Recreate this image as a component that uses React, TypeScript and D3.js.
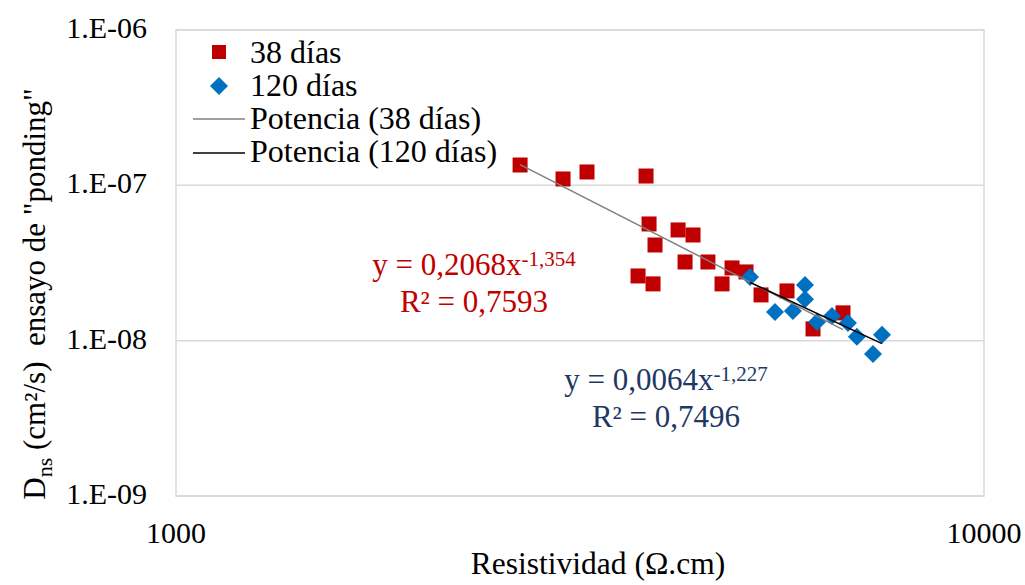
import React from "react";
import * as d3 from "d3";

// ---- Data ----
const res38: number[] = [2666, 3013, 3226, 3817, 3850, 3916, 4182, 4364, 3731, 3894, 4266, 4553, 4877, 5075, 4740, 5297, 5704, 6143, 6691];
const dns38: number[] = [1.352e-7, 1.099e-7, 1.219e-7, 1.148e-7, 5.64e-8, 4.13e-8, 5.16e-8, 4.79e-8, 2.61e-8, 2.32e-8, 3.21e-8, 3.21e-8, 2.94e-8, 2.77e-8, 2.32e-8, 1.97e-8, 2.09e-8, 1.19e-8, 1.51e-8];

const res120: number[] = [5133, 5512, 5801, 6004, 6004, 6213, 6484, 6786, 6961, 7478, 7288];
const dns120: number[] = [2.57e-8, 1.53e-8, 1.55e-8, 2.28e-8, 1.85e-8, 1.32e-8, 1.44e-8, 1.30e-8, 1.06e-8, 1.09e-8, 8.2e-9];

const xTicks: number[] = [1000, 10000];
const yTicks: number[] = [1e-6, 1e-7, 1e-8, 1e-9];

const legendLabels: string[] = ["38 días", "120 días", "Potencia (38 días)", "Potencia (120 días)"];
const eq38: string[] = ["y = 0,2068x", "-1,354", "R² = 0,7593"];
const eq120: string[] = ["y = 0,0064x", "-1,227", "R² = 0,7496"];

const RED = "#C00000";
const BLUE = "#0070C0";
const NAVY = "#203864";
const GRID = "#d9d9d9";
const FONT = "'Liberation Serif', 'Times New Roman', serif";

function powerFit(xs: number[], ys: number[]) {
  const lx = xs.map(Math.log);
  const ly = ys.map(Math.log);
  const mx = d3.mean(lx)!;
  const my = d3.mean(ly)!;
  let sxy = 0, sxx = 0;
  lx.forEach((v, i) => {
    sxy += (v - mx) * (ly[i] - my);
    sxx += (v - mx) * (v - mx);
  });
  const b = sxy / sxx;
  const a = Math.exp(my - b * mx);
  return { a, b };
}

export default function App() {
  const W = 1025, H = 585;
  const left = 176, right = 984, top = 30, bottom = 496;
  const x = d3.scaleLog().domain([1000, 10000]).range([left, right]);
  const y = d3.scaleLog().domain([1e-9, 1e-6]).range([bottom, top]);

  const fit38 = powerFit(res38, dns38);
  const fit120 = powerFit(res120, dns120);
  const line = d3.line<[number, number]>().x((d) => x(d[0])).y((d) => y(d[1]));
  const trend = (xs: number[], f: { a: number; b: number }) => {
    const [mn, mx] = d3.extent(xs) as [number, number];
    return line([mn, mx].map((v) => [v, f.a * Math.pow(v, f.b)] as [number, number]));
  };

  const fmtY = (v: number) => {
    const e = Math.round(Math.log10(v));
    return `1.E-${String(Math.abs(e)).padStart(2, "0")}`;
  };

  const sq = 14;
  const dm = 9;
  const diamond = (cx: number, cy: number) => `M${cx},${cy - dm}L${cx + dm},${cy}L${cx},${cy + dm}L${cx - dm},${cy}Z`;

  const legY = [63, 96, 129, 162];

  return (
    <svg width={W} height={H} style={{ position: "absolute", left: 0, top: 0, background: "#fff" }} fontFamily={FONT}>
      <rect x={0} y={0} width={W} height={H} fill="#fff" />
      {/* gridlines */}
      {yTicks.map((t) => (
        <line key={t} x1={left} x2={right} y1={y(t)} y2={y(t)} stroke={GRID} strokeWidth={1.5} />
      ))}
      <rect x={left} y={top} width={right - left} height={bottom - top} fill="none" stroke={GRID} strokeWidth={1.5} />

      {/* y tick labels */}
      {yTicks.map((t) => (
        <text key={t} x={147} y={y(t) + 8} fontSize={30} textAnchor="end" fill="#000">
          {fmtY(t)}
        </text>
      ))}
      {/* x tick labels */}
      {xTicks.map((t) => (
        <text key={t} x={x(t)} y={543} fontSize={30} textAnchor="middle" fill="#000">
          {d3.format("d")(t)}
        </text>
      ))}

      {/* axis titles */}
      <text x={598} y={574} fontSize={31.5} textAnchor="middle" fill="#000">
        Resistividad (Ω.cm)
      </text>
      <text transform="translate(45,294) rotate(-90)" fontSize={31} textAnchor="middle" fill="#000">
        D<tspan fontSize={22} dy={7}>ns</tspan>
        <tspan dy={-7}>{" (cm²/s)\u00A0 ensayo de \"ponding\""}</tspan>
      </text>

      {/* markers */}
      {res38.map((v, i) => (
        <rect key={"r" + i} x={x(v) - sq / 2 - 0.5} y={y(dns38[i]) - sq / 2 - 0.5} width={sq + 1} height={sq + 1} fill={RED} />
      ))}
      {res120.map((v, i) => (
        <path key={"b" + i} d={diamond(x(v), y(dns120[i]))} fill={BLUE} />
      ))}

      {/* trend lines */}
      <path d={trend(res38, fit38) || ""} stroke="#808080" strokeWidth={1.5} fill="none" />
      <path d={trend(res120, fit120) || ""} stroke="#000" strokeWidth={1.5} fill="none" />

      {/* equations */}
      <text x={474} y={275} fontSize={31} textAnchor="middle" fill={RED}>
        {eq38[0]}
        <tspan fontSize={21} dy={-9}>{eq38[1]}</tspan>
      </text>
      <text x={474} y={312} fontSize={31} textAnchor="middle" fill={RED}>
        {eq38[2]}
      </text>
      <text x={666} y={390} fontSize={31} textAnchor="middle" fill={NAVY}>
        {eq120[0]}
        <tspan fontSize={21} dy={-9}>{eq120[1]}</tspan>
      </text>
      <text x={666} y={427} fontSize={31} textAnchor="middle" fill={NAVY}>
        {eq120[2]}
      </text>

      {/* legend */}
      <rect x={219 - 7} y={legY[0] - 11 - 7} width={14} height={14} fill={RED} />
      <path d={`M219,${legY[1] - 19}L228,${legY[1] - 10}L219,${legY[1] - 1}L210,${legY[1] - 10}Z`} fill={BLUE} />
      <line x1={193} x2={245} y1={legY[2] - 10} y2={legY[2] - 10} stroke="#808080" strokeWidth={1.5} />
      <line x1={193} x2={245} y1={legY[3] - 9} y2={legY[3] - 9} stroke="#000" strokeWidth={1.5} />
      {legendLabels.map((l, i) => (
        <text key={l} x={250} y={legY[i]} fontSize={32} fill="#000">
          {l}
        </text>
      ))}
    </svg>
  );
}
